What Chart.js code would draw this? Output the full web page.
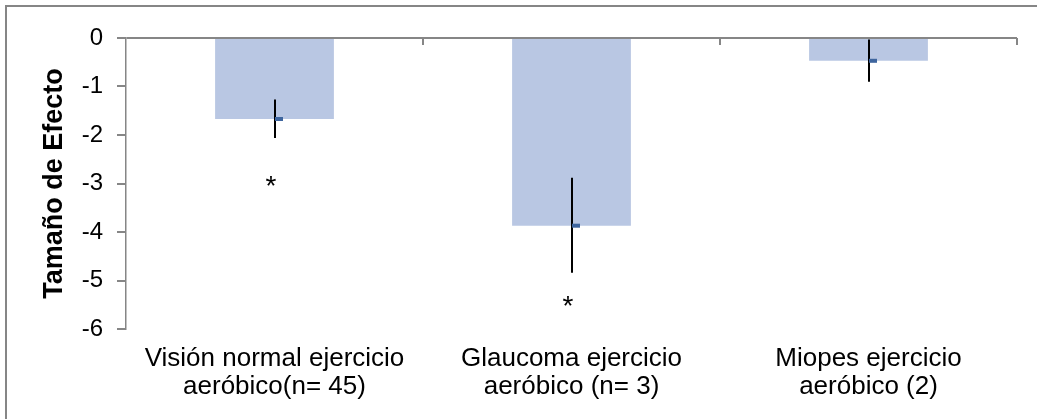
<!DOCTYPE html>
<html>
<head>
<meta charset="utf-8">
<script src="https://cdn.jsdelivr.net/npm/chart.js@4/dist/chart.umd.min.js"></script>
<style>
  html, body { margin: 0; padding: 0; background: #fff; }
  #wrap { width: 1037px; height: 419px; }
</style>
</head>
<body>
<div id="wrap"><canvas id="chart" width="1037" height="419"></canvas></div>
<script>
// chart data
const categories = [
    ["Visión normal ejercicio", "aeróbico(n= 45)"],
    ["Glaucoma ejercicio", "aeróbico (n= 3)"],
    ["Miopes ejercicio", "aeróbico (2)"]
];
const effectSize = [-1.67, -3.87, -0.47];
const errorTop = [-1.27, -2.88, -0.03];
const errorBottom = [-2.06, -4.84, -0.90];
const starAt = [-2.92, -5.40, null];
const yTicks = [0, -1, -2, -3, -4, -5, -6];

const AXIS_GREY = "#868686";
const FONT = "'Liberation Sans', Arial, sans-serif";

// outer frame, zero line ticks, error bars and asterisks
const extras = {
    id: "extras",
    beforeDraw(chart) {
        const ctx = chart.ctx;
        ctx.save();
        ctx.strokeStyle = AXIS_GREY;
        ctx.lineWidth = 2;
        ctx.beginPath();
        ctx.moveTo(6, 419);
        ctx.lineTo(6, 6);
        ctx.lineTo(1037, 6);
        ctx.stroke();
        ctx.restore();
    },
    afterDatasetsDraw(chart) {
        const ctx = chart.ctx;
        const x = chart.scales.x;
        const y = chart.scales.y;
        const y0 = y.getPixelForValue(0);
        ctx.save();

        // category boundary ticks hanging from the zero line
        ctx.strokeStyle = AXIS_GREY;
        ctx.lineWidth = 2;
        const step = x.getPixelForValue(1) - x.getPixelForValue(0);
        for (let i = 0; i < categories.length; i++) {
            const bx = Math.round(x.getPixelForValue(i) + step / 2);
            ctx.beginPath();
            ctx.moveTo(bx, y0);
            ctx.lineTo(bx, y0 + 7);
            ctx.stroke();
        }

        for (let i = 0; i < effectSize.length; i++) {
            const cx = Math.round(x.getPixelForValue(i));
            ctx.strokeStyle = "#000";
            ctx.lineWidth = 2;
            ctx.beginPath();
            ctx.moveTo(cx, y.getPixelForValue(errorTop[i]));
            ctx.lineTo(cx, y.getPixelForValue(errorBottom[i]));
            ctx.stroke();

            ctx.fillStyle = "#3E659E";
            ctx.fillRect(cx, y.getPixelForValue(effectSize[i]) - 2, 8, 4);

            if (starAt[i] !== null) {
                ctx.fillStyle = "#000";
                ctx.font = "28px " + FONT;
                ctx.textAlign = "center";
                ctx.textBaseline = "alphabetic";
                ctx.fillText("*", cx - 4, y.getPixelForValue(starAt[i]) + 15);
            }
        }
        ctx.restore();
    }
};

new Chart(document.getElementById("chart"), {
    type: "bar",
    data: {
        labels: categories,
        datasets: [{
            data: effectSize,
            backgroundColor: "#B9C7E3",
            borderWidth: 0,
            barPercentage: 0.4,
            categoryPercentage: 1.0
        }]
    },
    options: {
        responsive: false,
        animation: false,
        events: [],
        layout: { padding: { left: 0, top: 38, right: 20, bottom: 0 } },
        plugins: {
            legend: { display: false },
            tooltip: { enabled: false }
        },
        scales: {
            x: {
                position: "bottom",
                grid: { display: false },
                border: { display: false },
                ticks: {
                    color: "#000",
                    padding: 8,
                    maxRotation: 0,
                    autoSkip: false,
                    font: { family: FONT, size: 26, lineHeight: 1.08 }
                },
                afterFit(scale) { scale.height = 90; }
            },
            y: {
                min: -6,
                max: 0,
                afterBuildTicks(scale) {
                    scale.ticks = yTicks.map(v => ({ value: v }));
                },
                grid: {
                    color: ctx => (ctx.tick && ctx.tick.value === 0) ? AXIS_GREY : "rgba(0,0,0,0)",
                    lineWidth: 2,
                    tickColor: AXIS_GREY,
                    tickLength: 9
                },
                border: { display: true, color: AXIS_GREY, width: 1.5 },
                ticks: {
                    color: "#000",
                    padding: 14,
                    font: { family: FONT, size: 24 }
                },
                title: {
                    display: true,
                    text: "Tamaño de Efecto",
                    color: "#000",
                    padding: { top: 38, bottom: 0 },
                    font: { family: FONT, size: 27, weight: "bold" }
                },
                afterFit(scale) { scale.width = 126; }
            }
        }
    },
    plugins: [extras]
});
</script>
</body>
</html>
